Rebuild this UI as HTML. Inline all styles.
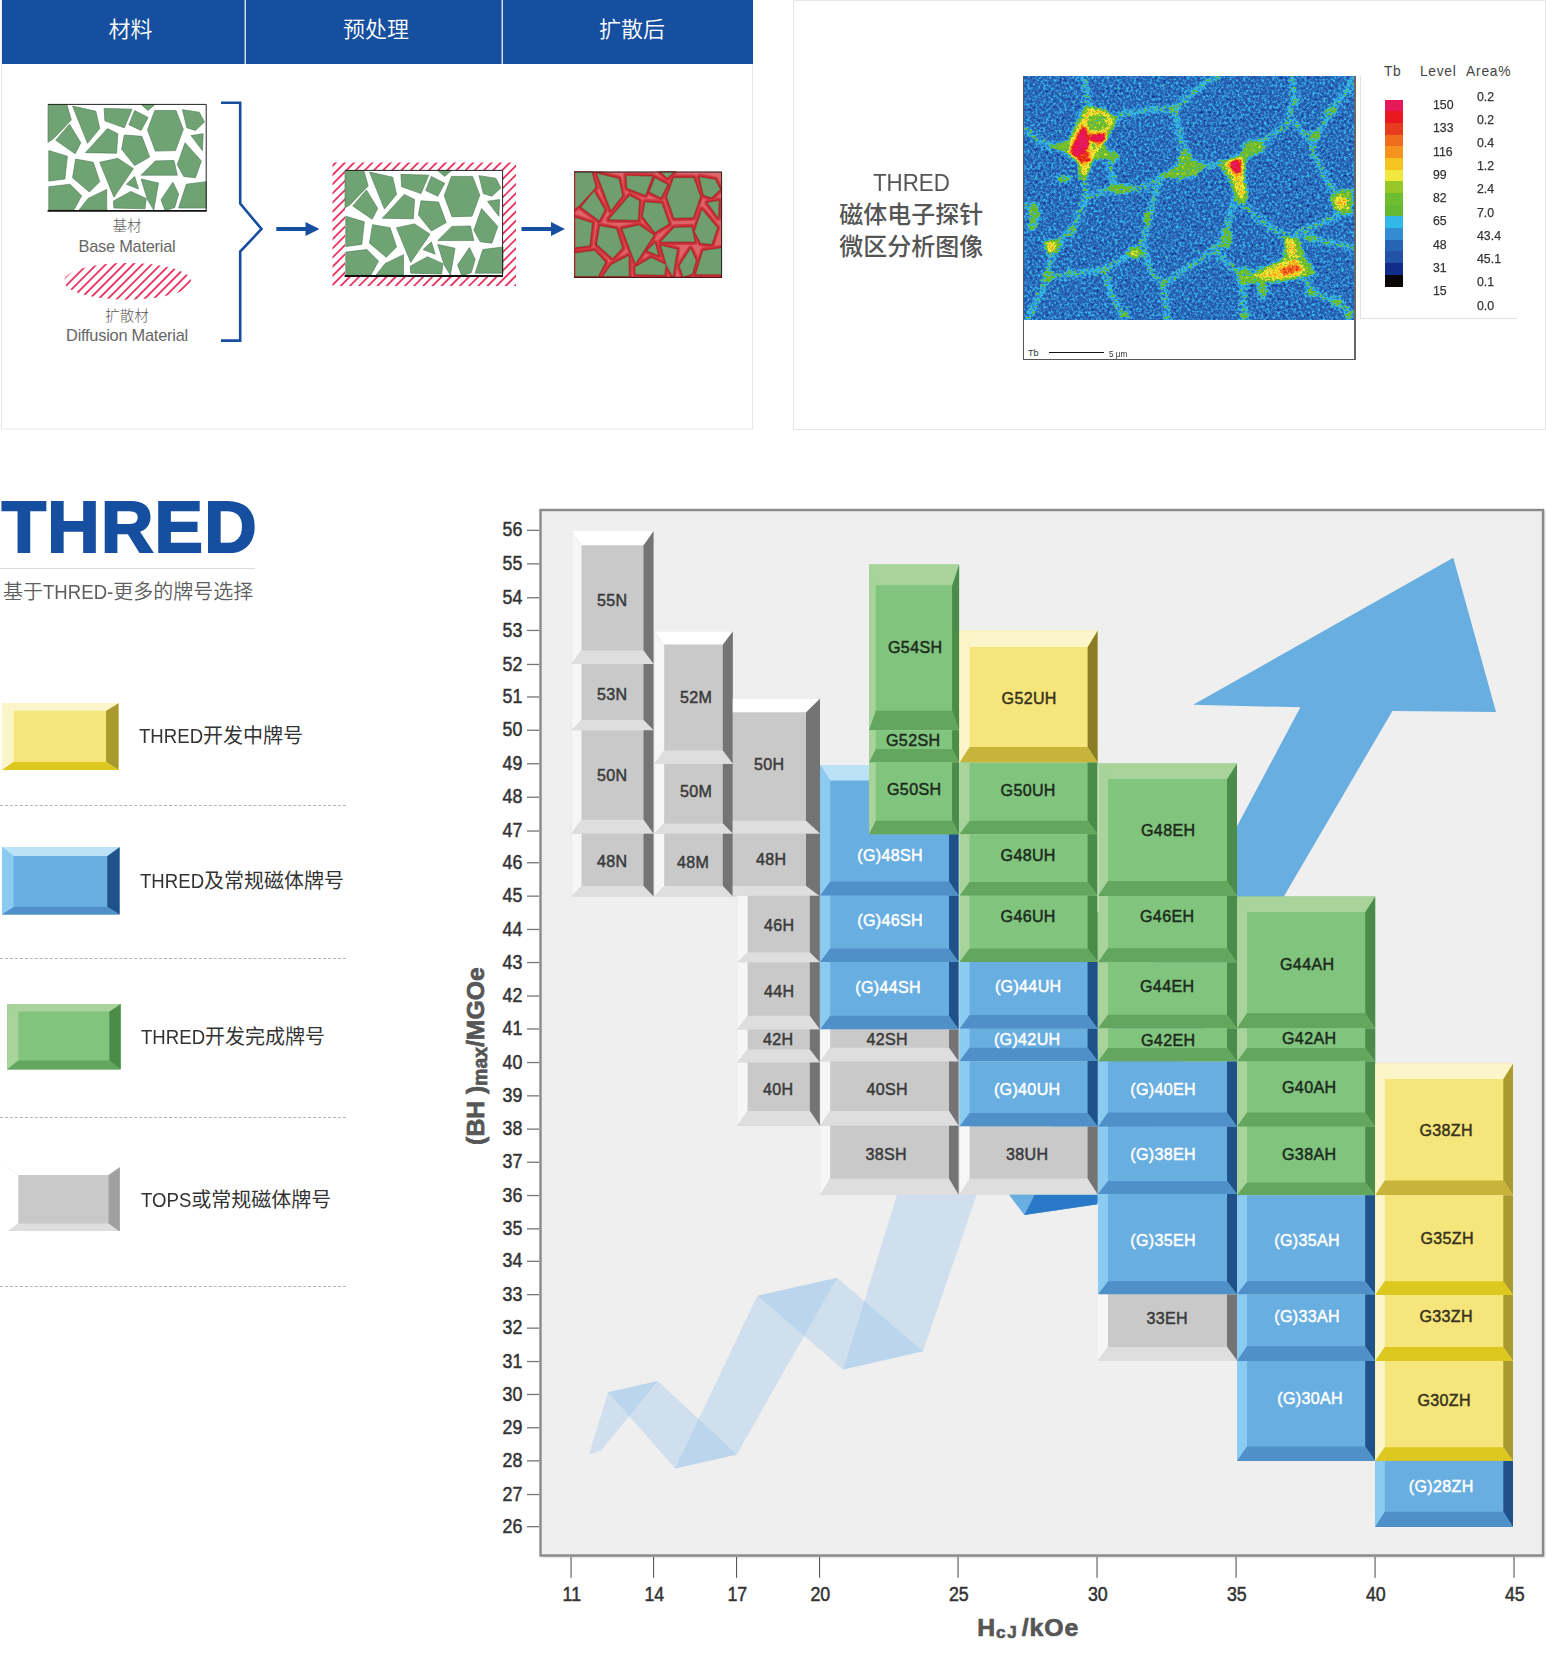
<!DOCTYPE html><html lang="zh"><head><meta charset="utf-8"><title>THRED</title><style>
html,body{margin:0;padding:0;background:#fff}
body{width:1546px;height:1653px;position:relative;overflow:hidden;font-family:"Liberation Sans","Noto Sans CJK SC",sans-serif;color:#333}
.abs{position:absolute;white-space:nowrap}
.hd{position:absolute;top:0;height:64px;line-height:60px;color:#fff;font-size:22px;text-align:center;font-family:"Liberation Sans","Noto Sans CJK SC",sans-serif;font-weight:350}
.cap{position:absolute;text-align:center;color:#5a5a5a;white-space:nowrap;font-weight:300}
.lg{position:absolute;left:139px;font-size:20px;color:#333;white-space:nowrap;line-height:30px;height:30px}
.la{display:inline-block;transform:scaleX(.93);transform-origin:0 50%;margin-right:-.24em}.la2{margin-right:-.265em}.la3{margin-right:-.19em}.la4{margin-right:0;transform-origin:50% 50%}
.dash{position:absolute;left:0;width:346px;height:0;border-top:1px dashed #b4b4b4}
.num{position:absolute;font-size:13.4px;color:#333;white-space:nowrap;line-height:14px;transform-origin:0 50%;transform:scaleX(.92);font-weight:400;-webkit-text-stroke:.25px #333}
</style></head><body>
<svg width="760" height="440" viewBox="0 0 760 440" style="position:absolute;left:0;top:0">
<defs><g id="grains"><polygon points="0,2 73,2 90,62 20,135 0,148"/><polygon points="95,8 185,28 200,95 153,152"/><polygon points="217,17 325,20 295,92 220,65"/><polygon points="335,25 387,52 360,102 313,80"/><polygon points="360,2 413,2 387,25"/><polygon points="413,25 495,25 523,98 493,180 415,182 385,100"/><polygon points="520,22 585,32 605,70 570,102 537,92"/><polygon points="553,122 600,115 597,180"/><polygon points="83,78 127,150 105,192 30,140"/><polygon points="230,95 270,115 265,190 145,188"/><polygon points="295,120 363,125 393,205 335,238 285,175"/><polygon points="530,150 593,220 570,285 525,280 500,235"/><polygon points="3,180 75,202 65,290 3,298"/><polygon points="107,213 175,225 200,300 160,340 95,285"/><polygon points="200,225 270,210 330,250 255,360"/><polygon points="415,220 487,218 500,275 360,275"/><polygon points="335,280 350,328 303,310"/><polygon points="360,290 427,305 409,410 385,370"/><polygon points="483,302 505,348 490,400 453,412 437,370"/><polygon points="535,310 613,300 613,402 505,402"/><polygon points="3,320 85,310 130,355 100,410 3,410"/><polygon points="227,330 227,410 120,410 155,365"/><polygon points="320,338 380,365 375,405 255,402 253,375"/></g>
<pattern id="hat" width="6.48" height="6.48" patternUnits="userSpaceOnUse" patternTransform="rotate(45) translate(1.6 0)"><rect x="0" y="0" width="1.8" height="6.48" fill="#e8305e"/></pattern>
<filter id="gb" x="-5%" y="-5%" width="110%" height="110%"><feGaussianBlur stdDeviation="1.1"/></filter>
</defs>
<rect x="1.5" y="0.5" width="751" height="428.5" fill="#fff" stroke="#e6e6e6" stroke-width="1"/>
<rect x="2" y="0" width="751" height="64" fill="#164fa0"/>
<rect x="244.6" y="0" width="1.2" height="64" fill="#fff"/><rect x="501.6" y="0" width="1.2" height="64" fill="#fff"/>
<rect x="48" y="104" width="158.5" height="107.4" fill="#fff"/><g transform="translate(48 104) scale(0.2586 0.2588)" fill="#6fa374" stroke="#4d7d55" stroke-width="2.5" stroke-linejoin="round"><use href="#grains"/></g>
<path d="M48 104.4H206.2V211" fill="none" stroke="#222" stroke-width="1"/><path d="M47.6 210.8H206.7" stroke="#111" stroke-width="1.8"/>
<ellipse cx="127.5" cy="281.3" rx="63.5" ry="18.4" fill="url(#hat)"/>
<path d="M221 102.8H240.2V203.5L261.5 229L240.2 251.5V340.6H221" fill="none" stroke="#164fa0" stroke-width="2.6" stroke-linejoin="miter"/>
<path d="M276.3 227.1H305.5V222L319.5 229L305.5 236V230.9H276.3Z" fill="#164fa0"/>
<path d="M521.5 227.1H551V222L565 229L551 236V230.9H521.5Z" fill="#164fa0"/>
<rect x="332.5" y="162.5" width="183.5" height="123.5" fill="url(#hat)"/>
<rect x="345" y="170" width="158" height="106.5" fill="#fff"/><g transform="translate(345 170) scale(0.2577 0.2566)" fill="#6fa374" stroke="#4d7d55" stroke-width="2.5" stroke-linejoin="round"><use href="#grains"/></g>
<path d="M345 170.4H502.6V276" fill="none" stroke="#222" stroke-width="1"/><path d="M344.6 276H503" stroke="#111" stroke-width="1.8"/>
<clipPath id="c3"><rect x="574" y="171.5" width="148" height="106"/></clipPath>
<g clip-path="url(#c3)">
<rect x="574" y="171.5" width="148" height="106" fill="#de6468"/>
<g transform="translate(574 171.5) scale(0.2414 0.2554)" fill="none" stroke="#cf3a42" stroke-width="26" stroke-linejoin="round"><use href="#grains"/></g>
<g transform="translate(574 171.5) scale(0.2414 0.2554)" fill="#6f9f6e" stroke="#c0222a" stroke-width="13" stroke-linejoin="round"><use href="#grains"/></g>
<g transform="translate(574 171.5) scale(0.2414 0.2554)" fill="#6f9f6e" stroke="#4c7c50" stroke-width="1.5" stroke-linejoin="round"><use href="#grains"/></g>
</g>
<path d="M574.6 171.5V277.5" stroke="#b01c24" stroke-width="1.2"/>
<path d="M574 172H721.6V277" fill="none" stroke="#222" stroke-width="1"/><path d="M574 277.3H722" stroke="#5a1010" stroke-width="1.2"/>
</svg>
<div class="hd" style="left:2px;width:243px;padding-left:14px;box-sizing:border-box">材料</div>
<div class="hd" style="left:246px;width:256px;padding-left:4px;box-sizing:border-box">预处理</div>
<div class="hd" style="left:503px;width:250px;padding-left:8px;box-sizing:border-box">扩散后</div>
<div class="cap" style="left:27px;width:200px;top:216px;font-size:14.5px;line-height:20px">基材</div>
<div class="cap" style="left:27px;width:200px;top:236px;font-size:16.4px;line-height:20px;letter-spacing:-.25px;color:#666">Base Material</div>
<div class="cap" style="left:27px;width:200px;top:306px;font-size:14.5px;line-height:20px">扩散材</div>
<div class="cap" style="left:27px;width:200px;top:325px;font-size:16.4px;line-height:20px;letter-spacing:-.25px;color:#666">Diffusion Material</div>
<div style="position:absolute;left:793px;top:0;width:750.5px;height:428px;border:1px solid #e6e6e6;box-sizing:content-box"></div>
<div class="cap" style="left:811.3px;width:200px;top:167.4px;font-size:24px;line-height:32px;color:#555;font-weight:500"><span class="la la4" style="font-weight:400">THRED</span><br>磁体电子探针<br>微区分析图像</div>
<div style="position:absolute;left:1023px;top:76px;width:329.5px;height:282.5px;border-left:1.6px solid #555;border-right:2px solid #666;border-bottom:1.6px solid #555;background:#fff"></div>
<svg width="329.2" height="243.6" viewBox="45 45 1455 1075" preserveAspectRatio="none" style="position:absolute;left:1024.4px;top:76px;overflow:hidden">
<defs>
<filter id="ep" x="0" y="0" width="100%" height="100%" filterUnits="objectBoundingBox" color-interpolation-filters="sRGB"><feGaussianBlur in="SourceGraphic" stdDeviation="6" result="bl"/><feTurbulence type="fractalNoise" baseFrequency="0.085" numOctaves="2" seed="7" result="nz"/><feColorMatrix in="nz" type="matrix" values="1 0 0 0 0  1 0 0 0 0  1 0 0 0 0  0 0 0 0 1" result="ng"/><feComposite in="bl" in2="ng" operator="arithmetic" k1="0" k2="1" k3="0.42" k4="-0.21" result="mix"/><feComponentTransfer in="mix"><feFuncR type="discrete" tableValues="0.039 0.071 0.141 0.157 0.196 0.196 0.392 0.431 0.588 0.941 0.965 0.957 0.941 0.910 0.910 0.902"/><feFuncG type="discrete" tableValues="0.024 0.173 0.322 0.392 0.549 0.722 0.722 0.737 0.784 0.910 0.769 0.580 0.424 0.235 0.094 0.094"/><feFuncB type="discrete" tableValues="0.024 0.549 0.659 0.706 0.824 0.902 0.196 0.188 0.157 0.235 0.118 0.118 0.118 0.118 0.118 0.353"/></feComponentTransfer></filter>
</defs>
<g filter="url(#ep)">
<rect x="-100" y="-100" width="1800" height="1400" fill="#3c3c3c"/>
<path d="M310 45L320 120L330 200" fill="none" stroke="#555555" stroke-width="30" stroke-linecap="round" stroke-linejoin="round"/>
<path d="M440 230L500 210L600 195L710 190L790 120L840 80L900 45" fill="none" stroke="#555555" stroke-width="30" stroke-linecap="round" stroke-linejoin="round"/>
<path d="M710 190L730 300L760 380L750 440" fill="none" stroke="#555555" stroke-width="30" stroke-linecap="round" stroke-linejoin="round"/>
<path d="M310 480L320 580L260 720L170 800L150 930L100 1040L60 1120" fill="none" stroke="#555555" stroke-width="30" stroke-linecap="round" stroke-linejoin="round"/>
<path d="M50 280L100 320L170 360" fill="none" stroke="#555555" stroke-width="30" stroke-linecap="round" stroke-linejoin="round"/>
<path d="M420 400L440 540L560 540L640 500L740 450" fill="none" stroke="#555555" stroke-width="30" stroke-linecap="round" stroke-linejoin="round"/>
<path d="M640 500L600 660L570 780L600 900L660 960L680 1120" fill="none" stroke="#555555" stroke-width="30" stroke-linecap="round" stroke-linejoin="round"/>
<path d="M320 580L440 540" fill="none" stroke="#555555" stroke-width="30" stroke-linecap="round" stroke-linejoin="round"/>
<path d="M150 930L250 920L400 900L430 1000L480 1100" fill="none" stroke="#555555" stroke-width="30" stroke-linecap="round" stroke-linejoin="round"/>
<path d="M570 780L530 820L400 900" fill="none" stroke="#555555" stroke-width="30" stroke-linecap="round" stroke-linejoin="round"/>
<path d="M170 800L260 720" fill="none" stroke="#555555" stroke-width="30" stroke-linecap="round" stroke-linejoin="round"/>
<path d="M740 450L850 440L920 430" fill="none" stroke="#555555" stroke-width="30" stroke-linecap="round" stroke-linejoin="round"/>
<path d="M1000 400L1090 340L1200 270L1240 150L1230 45" fill="none" stroke="#555555" stroke-width="30" stroke-linecap="round" stroke-linejoin="round"/>
<path d="M1240 250L1310 330L1350 290L1400 200L1480 100L1500 60" fill="none" stroke="#555555" stroke-width="30" stroke-linecap="round" stroke-linejoin="round"/>
<path d="M1000 560L960 640L930 760L900 830L1000 920" fill="none" stroke="#555555" stroke-width="30" stroke-linecap="round" stroke-linejoin="round"/>
<path d="M1000 600L1100 690L1200 750" fill="none" stroke="#555555" stroke-width="30" stroke-linecap="round" stroke-linejoin="round"/>
<path d="M1310 330L1330 400L1380 500L1440 600" fill="none" stroke="#555555" stroke-width="30" stroke-linecap="round" stroke-linejoin="round"/>
<path d="M1450 650L1350 700L1250 740" fill="none" stroke="#555555" stroke-width="30" stroke-linecap="round" stroke-linejoin="round"/>
<path d="M1280 920L1320 1000L1430 1040L1495 1100" fill="none" stroke="#555555" stroke-width="30" stroke-linecap="round" stroke-linejoin="round"/>
<path d="M1020 930L1010 1000L1020 1115" fill="none" stroke="#555555" stroke-width="30" stroke-linecap="round" stroke-linejoin="round"/>
<path d="M930 760L850 840L750 900L680 950" fill="none" stroke="#555555" stroke-width="30" stroke-linecap="round" stroke-linejoin="round"/>
<path d="M1300 760L1400 780L1495 800" fill="none" stroke="#555555" stroke-width="30" stroke-linecap="round" stroke-linejoin="round"/>
<path d="M60 620L100 640L80 700" fill="none" stroke="#555555" stroke-width="30" stroke-linecap="round" stroke-linejoin="round"/>
<path d="M1090 960L1100 1020" fill="none" stroke="#555555" stroke-width="30" stroke-linecap="round" stroke-linejoin="round"/>
<ellipse cx="440" cy="400" rx="25" ry="25" fill="#707070"/>
<ellipse cx="470" cy="545" rx="55" ry="22" fill="#707070"/>
<ellipse cx="220" cy="500" rx="35" ry="15" fill="#6b6b6b"/>
<ellipse cx="710" cy="190" rx="18" ry="18" fill="#6b6b6b"/>
<ellipse cx="1060" cy="360" rx="50" ry="30" fill="#707070"/>
<ellipse cx="1010" cy="560" rx="25" ry="50" fill="#757575"/>
<ellipse cx="1020" cy="930" rx="35" ry="40" fill="#707070"/>
<ellipse cx="1100" cy="990" rx="22" ry="30" fill="#6b6b6b"/>
<ellipse cx="150" cy="930" rx="25" ry="25" fill="#6b6b6b"/>
<ellipse cx="90" cy="650" rx="25" ry="50" fill="#6b6b6b"/>
<ellipse cx="80" cy="710" rx="20" ry="15" fill="#6b6b6b"/>
<ellipse cx="535" cy="825" rx="35" ry="25" fill="#757575"/>
<ellipse cx="590" cy="670" rx="18" ry="30" fill="#6b6b6b"/>
<ellipse cx="940" cy="760" rx="25" ry="50" fill="#6b6b6b"/>
<ellipse cx="1330" cy="310" rx="25" ry="25" fill="#6b6b6b"/>
<ellipse cx="1400" cy="200" rx="30" ry="15" fill="#6b6b6b"/>
<ellipse cx="1255" cy="155" rx="12" ry="12" fill="#666666"/>
<ellipse cx="1310" cy="1000" rx="20" ry="15" fill="#6b6b6b"/>
<ellipse cx="1430" cy="1045" rx="25" ry="20" fill="#6b6b6b"/>
<ellipse cx="490" cy="1100" rx="25" ry="15" fill="#6b6b6b"/>
<ellipse cx="1020" cy="1100" rx="25" ry="15" fill="#6b6b6b"/>
<ellipse cx="1480" cy="1100" rx="15" ry="20" fill="#6b6b6b"/>
<ellipse cx="400" cy="900" rx="20" ry="12" fill="#666666"/>
<ellipse cx="1310" cy="760" rx="30" ry="15" fill="#6b6b6b"/>
<ellipse cx="260" cy="730" rx="15" ry="25" fill="#666666"/>
<ellipse cx="250" cy="910" rx="20" ry="10" fill="#666666"/>
<ellipse cx="660" cy="960" rx="12" ry="18" fill="#666666"/>
<polygon points="150,355 240,330 310,180 400,190 460,235 400,340 430,400 350,420 320,500 290,500 280,420 220,380" fill="#787878"/>
<polygon points="905,430 1000,390 1090,320 1100,360 1030,410 1020,500 1030,590 980,600 960,520 930,470" fill="#787878"/>
<polygon points="1000,950 1080,900 1190,850 1200,750 1260,760 1290,850 1340,920 1200,950 1080,960" fill="#787878"/>
<polygon points="1395,580 1440,550 1495,545 1495,660 1420,640" fill="#787878"/>
<polygon points="130,770 200,765 215,790 185,830 150,830" fill="#787878"/>
<polygon points="640,490 720,440 740,370 765,370 790,410 850,440 800,490 720,500" fill="#737373"/>
<polygon points="250,330 330,185 400,200 440,240 400,330 350,400 320,480 300,480 290,410 240,380" fill="#a1a1a1"/>
<polygon points="930,430 1010,400 1015,480 1020,580 1000,585 970,500" fill="#a1a1a1"/>
<polygon points="1060,930 1180,870 1250,850 1290,900 1260,930 1150,945" fill="#a1a1a1"/>
<polygon points="1200,760 1240,770 1250,850 1215,840" fill="#a1a1a1"/>
<polygon points="140,780 180,775 180,815 150,820" fill="#a1a1a1"/>
<ellipse cx="1445" cy="605" rx="30" ry="26" fill="#a3a3a3"/>
<ellipse cx="535" cy="828" rx="15" ry="10" fill="#999999"/>
<ellipse cx="1315" cy="1000" rx="8" ry="6" fill="#949494"/>
<polygon points="250,380 290,290 310,262 328,300 335,350 300,405 260,400" fill="#ffffff"/>
<polygon points="340,302 400,296 410,325 370,345 338,335" fill="#ffffff"/>
<polygon points="268,400 330,378 342,420 292,432" fill="#dbdbdb"/>
<polygon points="955,420 1000,415 1005,470 985,480 960,450" fill="#ffffff"/>
<polygon points="1170,900 1250,870 1270,900 1200,925" fill="#cccccc"/>
<ellipse cx="368" cy="252" rx="48" ry="40" fill="#787878"/>
<ellipse cx="350" cy="350" rx="16" ry="16" fill="#787878"/>
</g></svg>
<div class="abs" style="left:1028px;top:347px;font-size:9px;line-height:12px;color:#333">Tb</div>
<div style="position:absolute;left:1049px;top:352px;width:54.5px;height:1px;background:#111"></div>
<div class="abs" style="left:1109px;top:347.5px;font-size:9px;line-height:12px;color:#333;transform:scaleX(.9);transform-origin:0 0">5 μm</div>
<div style="position:absolute;left:1360px;top:76px;width:156px;height:242px;border-left:1px solid #e2e2e2;border-bottom:1px solid #e2e2e2"></div>
<div class="abs" style="left:1384px;top:63.5px;font-size:13.8px;line-height:16px;color:#444;letter-spacing:.5px">Tb</div>
<div class="abs" style="left:1420px;top:63.5px;font-size:13.8px;line-height:16px;color:#444;letter-spacing:.7px">Level</div>
<div class="abs" style="left:1466px;top:63.5px;font-size:13.8px;line-height:16px;color:#444;letter-spacing:.8px">Area%</div>
<div style="position:absolute;left:1385px;top:99.50px;width:18px;height:11.98px;background:#e6185a"></div>
<div style="position:absolute;left:1385px;top:111.18px;width:18px;height:11.98px;background:#e8181e"></div>
<div style="position:absolute;left:1385px;top:122.86px;width:18px;height:11.98px;background:#e83c1e"></div>
<div style="position:absolute;left:1385px;top:134.54px;width:18px;height:11.98px;background:#f06c1e"></div>
<div style="position:absolute;left:1385px;top:146.22px;width:18px;height:11.98px;background:#f4941e"></div>
<div style="position:absolute;left:1385px;top:157.91px;width:18px;height:11.98px;background:#f6c41e"></div>
<div style="position:absolute;left:1385px;top:169.59px;width:18px;height:11.98px;background:#f0e83c"></div>
<div style="position:absolute;left:1385px;top:181.27px;width:18px;height:11.98px;background:#96c828"></div>
<div style="position:absolute;left:1385px;top:192.95px;width:18px;height:11.98px;background:#6ebc30"></div>
<div style="position:absolute;left:1385px;top:204.63px;width:18px;height:11.98px;background:#64b832"></div>
<div style="position:absolute;left:1385px;top:216.31px;width:18px;height:11.98px;background:#32b8e6"></div>
<div style="position:absolute;left:1385px;top:227.99px;width:18px;height:11.98px;background:#328cd2"></div>
<div style="position:absolute;left:1385px;top:239.67px;width:18px;height:11.98px;background:#2864b4"></div>
<div style="position:absolute;left:1385px;top:251.36px;width:18px;height:11.98px;background:#2452a8"></div>
<div style="position:absolute;left:1385px;top:263.04px;width:18px;height:11.98px;background:#122c8c"></div>
<div style="position:absolute;left:1385px;top:274.72px;width:18px;height:11.98px;background:#0a0606"></div>
<div class="num" style="left:1432.5px;top:98.0px">150</div>
<div class="num" style="left:1432.5px;top:121.3px">133</div>
<div class="num" style="left:1432.5px;top:144.6px">116</div>
<div class="num" style="left:1432.5px;top:167.9px">99</div>
<div class="num" style="left:1432.5px;top:191.2px">82</div>
<div class="num" style="left:1432.5px;top:214.4px">65</div>
<div class="num" style="left:1432.5px;top:237.7px">48</div>
<div class="num" style="left:1432.5px;top:261.0px">31</div>
<div class="num" style="left:1432.5px;top:284.3px">15</div>
<div class="num" style="left:1476.6px;top:89.5px">0.2</div>
<div class="num" style="left:1476.6px;top:112.7px">0.2</div>
<div class="num" style="left:1476.6px;top:135.9px">0.4</div>
<div class="num" style="left:1476.6px;top:159.2px">1.2</div>
<div class="num" style="left:1476.6px;top:182.4px">2.4</div>
<div class="num" style="left:1476.6px;top:205.6px">7.0</div>
<div class="num" style="left:1476.6px;top:228.8px">43.4</div>
<div class="num" style="left:1476.6px;top:252.0px">45.1</div>
<div class="num" style="left:1476.6px;top:275.3px">0.1</div>
<div class="num" style="left:1476.6px;top:298.5px">0.0</div>
<div class="abs" style="left:1.7px;top:487.3px;font-size:72.5px;line-height:80px;font-weight:700;color:#164fa0;letter-spacing:1.3px;-webkit-text-stroke:2.2px #164fa0">THRED</div>
<div style="position:absolute;left:0;top:567.5px;width:255px;height:1px;background:#dcdcdc"></div>
<div class="abs" style="left:3px;top:576.5px;font-size:20px;line-height:30px;color:#5e5e5e;font-weight:350">基于<span class="la la2">THRED-</span>更多的牌号选择</div>
<svg width="116.6" height="66.89999999999998" viewBox="2.4 702.7 116.6 66.89999999999998" style="position:absolute;left:2.4px;top:702.7px"><rect x="2.4" y="702.7" width="116.6" height="66.89999999999998" fill="#f6e57b"/><path d="M2.4 702.7L14 710.4L14 761.6L2.4 769.6Z" fill="#fbf5c9"/><path d="M119 702.7L106.5 710.4L106.5 761.6L119 769.6Z" fill="#a89a2c"/><path d="M2.4 702.7L119 702.7L106.5 710.4L14 710.4Z" fill="#fbf5c9"/><path d="M2.4 769.6L119 769.6L106.5 761.6L14 761.6Z" fill="#dcc81f"/></svg>
<svg width="117.6" height="67.5" viewBox="2.4 847.3 117.6 67.5" style="position:absolute;left:2.4px;top:847.3px"><rect x="2.4" y="847.3" width="117.6" height="67.5" fill="#69aee0"/><path d="M2.4 847.3L14 856.2L14 907.4L2.4 914.8Z" fill="#8ccbf1"/><path d="M120 847.3L107.7 856.2L107.7 907.4L120 914.8Z" fill="#1f5288"/><path d="M2.4 847.3L120 847.3L107.7 856.2L14 856.2Z" fill="#bbe2f6"/><path d="M2.4 914.8L120 914.8L107.7 907.4L14 907.4Z" fill="#4f90c8"/></svg>
<svg width="113.7" height="65.39999999999998" viewBox="7.1 1004.4 113.7 65.39999999999998" style="position:absolute;left:7.1px;top:1004.4px"><rect x="7.1" y="1004.4" width="113.7" height="65.39999999999998" fill="#80c47e"/><path d="M7.1 1004.4L18.4 1011.8L18.4 1060.9L7.1 1069.8Z" fill="#a8d49b"/><path d="M120.8 1004.4L109.5 1011.8L109.5 1060.9L120.8 1069.8Z" fill="#4b8c4a"/><path d="M7.1 1004.4L120.8 1004.4L109.5 1011.8L18.4 1011.8Z" fill="#a8d49b"/><path d="M7.1 1069.8L120.8 1069.8L109.5 1060.9L18.4 1060.9Z" fill="#65a65e"/></svg>
<svg width="112.80000000000001" height="64.90000000000009" viewBox="7.1 1166.5 112.80000000000001 64.90000000000009" style="position:absolute;left:7.1px;top:1166.5px"><rect x="7.1" y="1166.5" width="112.80000000000001" height="64.90000000000009" fill="#c9c9c9"/><path d="M7.1 1166.5L18.4 1174.6L18.4 1223.1L7.1 1231.4Z" fill="#ffffff"/><path d="M119.9 1166.5L108.6 1174.6L108.6 1223.1L119.9 1231.4Z" fill="#a0a0a0"/><path d="M7.1 1166.5L119.9 1166.5L108.6 1174.6L18.4 1174.6Z" fill="#ffffff"/><path d="M7.1 1231.4L119.9 1231.4L108.6 1223.1L18.4 1223.1Z" fill="#dedede"/></svg>
<div class="lg" style="top:720.5px"><span class="la">THRED</span>开发中牌号</div>
<div class="lg" style="top:865.5px;left:140px"><span class="la">THRED</span>及常规磁体牌号</div>
<div class="lg" style="top:1021.5px;left:141px"><span class="la">THRED</span>开发完成牌号</div>
<div class="lg" style="top:1184.5px;left:141px"><span class="la la3">TOPS</span>或常规磁体牌号</div>
<div class="dash" style="top:805px"></div>
<div class="dash" style="top:958px"></div>
<div class="dash" style="top:1117px"></div>
<div class="dash" style="top:1286px"></div>
<svg width="1546" height="1653" viewBox="0 0 1546 1653" style="position:absolute;left:0;top:0">
<defs><filter id="psh" x="-2%" y="-2%" width="104%" height="104%"><feGaussianBlur stdDeviation="1.2"/></filter></defs>
<rect x="541.5" y="511" width="1003" height="1046" fill="#b8b8b8" filter="url(#psh)"/>
<rect x="540.5" y="510" width="1002.5" height="1045.5" fill="#efefef" stroke="#8a8a8a" stroke-width="2.4"/>
<path d="M1453.3 557.7L1496 712L1392.4 711L1283.8 896.4L1097 1204.5L1024.4 1215.1L1009.2 1195.1L1237.7 825L1300.4 707.3L1193.2 704.8Z" fill="#69aee0"/>
<path d="M1034.5 1195.1L1024.4 1215.1L1097.2 1204.2L1097.2 1195.1Z" fill="#2a78c8"/>
<path d="M896.9 1195.1L976.6 1195.1L923 1351.3L843.3 1369.4Z" fill="#9cc6ea" fill-opacity="0.38"/>
<path d="M837.1 1277.7L757.4 1295.8L843.3 1369.4L923 1351.3Z" fill="#9cc6ea" fill-opacity="0.38"/>
<path d="M757.4 1295.8L837.1 1277.7L736.8 1454.5L675.2 1468.6Z" fill="#9cc6ea" fill-opacity="0.38"/>
<path d="M608.2 1392.2L657.8 1381L736.8 1454.5L675.2 1468.6Z" fill="#9cc6ea" fill-opacity="0.38"/>
<path d="M608.2 1392.2L657.8 1381L600.6 1450.9L589 1454.5Z" fill="#9cc6ea" fill-opacity="0.38"/>
<rect x="571.5" y="531" width="82" height="133" fill="#c9c9c9"/><path d="M571.5 531L581.5 545.3L581.5 650.6L571.5 664Z" fill="#f6f6f6"/><path d="M653.5 531L643.5 545.3L643.5 650.6L653.5 664Z" fill="#747474"/><path d="M571.5 531L653.5 531L643.5 545.3L581.5 545.3Z" fill="#ffffff"/><path d="M571.5 664L653.5 664L643.5 650.6L581.5 650.6Z" fill="#dedede"/>
<rect x="571.5" y="664" width="82" height="66.3" fill="#c9c9c9"/><path d="M571.5 664L581.5 664L581.5 720L571.5 730.3Z" fill="#f6f6f6"/><path d="M653.5 664L643.5 664L643.5 720L653.5 730.3Z" fill="#747474"/><path d="M571.5 730.3L653.5 730.3L643.5 720L581.5 720Z" fill="#dedede"/>
<rect x="571.5" y="730.3" width="82" height="103.5" fill="#c9c9c9"/><path d="M571.5 730.3L581.5 730.3L581.5 819.8L571.5 833.8Z" fill="#f6f6f6"/><path d="M653.5 730.3L643.5 730.3L643.5 819.8L653.5 833.8Z" fill="#747474"/><path d="M571.5 833.8L653.5 833.8L643.5 819.8L581.5 819.8Z" fill="#dedede"/>
<rect x="571.5" y="833.8" width="82" height="62.6" fill="#c9c9c9"/><path d="M571.5 833.8L581.5 833.8L581.5 886L571.5 896.4Z" fill="#f6f6f6"/><path d="M653.5 833.8L643.5 833.8L643.5 886L653.5 896.4Z" fill="#747474"/><path d="M571.5 896.4L653.5 896.4L643.5 886L581.5 886Z" fill="#dedede"/>
<rect x="654.4" y="631.2" width="78.4" height="132.7" fill="#c9c9c9"/><path d="M654.4 631.2L664.2 644.4L664.2 750.5L654.4 763.9Z" fill="#f6f6f6"/><path d="M732.8 631.2L722.8 644.4L722.8 750.5L732.8 763.9Z" fill="#747474"/><path d="M654.4 631.2L732.8 631.2L722.8 644.4L664.2 644.4Z" fill="#ffffff"/><path d="M654.4 763.9L732.8 763.9L722.8 750.5L664.2 750.5Z" fill="#dedede"/>
<rect x="654.4" y="763.9" width="78.4" height="69.9" fill="#c9c9c9"/><path d="M654.4 763.9L664.2 763.9L664.2 823.4L654.4 833.8Z" fill="#f6f6f6"/><path d="M732.8 763.9L722.8 763.9L722.8 823.4L732.8 833.8Z" fill="#747474"/><path d="M654.4 833.8L732.8 833.8L722.8 823.4L664.2 823.4Z" fill="#dedede"/>
<rect x="654.4" y="833.8" width="78.4" height="62.6" fill="#c9c9c9"/><path d="M654.4 833.8L664.2 833.8L664.2 886L654.4 896.4Z" fill="#f6f6f6"/><path d="M732.8 833.8L722.8 833.8L722.8 886L732.8 896.4Z" fill="#747474"/><path d="M654.4 896.4L732.8 896.4L722.8 886L664.2 886Z" fill="#dedede"/>
<rect x="732.8" y="698.4" width="87.2" height="135.4" fill="#c9c9c9"/><path d="M820 698.4L806 712.2L806 820.8L820 833.8Z" fill="#747474"/><path d="M732.8 698.4L820 698.4L806 712.2L732.8 712.2Z" fill="#ffffff"/><path d="M732.8 833.8L820 833.8L806 820.8L732.8 820.8Z" fill="#dedede"/>
<rect x="732.8" y="833.8" width="87.2" height="62.6" fill="#c9c9c9"/><path d="M820 833.8L806 833.8L806 886L820 896.4Z" fill="#747474"/><path d="M732.8 896.4L820 896.4L806 886L732.8 886Z" fill="#dedede"/>
<rect x="737.2" y="895.8" width="82.6" height="66.5" fill="#c9c9c9"/><path d="M737.2 895.8L747.6 895.8L747.6 952.4L737.2 962.3Z" fill="#f6f6f6"/><path d="M819.8 895.8L809.8 895.8L809.8 952.4L819.8 962.3Z" fill="#747474"/><path d="M737.2 962.3L819.8 962.3L809.8 952.4L747.6 952.4Z" fill="#dedede"/>
<rect x="737.2" y="962.3" width="82.6" height="67.2" fill="#c9c9c9"/><path d="M737.2 962.3L747.6 962.3L747.6 1015.8L737.2 1029.5Z" fill="#f6f6f6"/><path d="M819.8 962.3L809.8 962.3L809.8 1015.8L819.8 1029.5Z" fill="#747474"/><path d="M737.2 1029.5L819.8 1029.5L809.8 1015.8L747.6 1015.8Z" fill="#dedede"/>
<rect x="737.2" y="1029.5" width="82.6" height="32.9" fill="#c9c9c9"/><path d="M737.2 1029.5L747.6 1029.5L747.6 1049.5L737.2 1062.4Z" fill="#f6f6f6"/><path d="M819.8 1029.5L809.8 1029.5L809.8 1049.5L819.8 1062.4Z" fill="#747474"/><path d="M737.2 1062.4L819.8 1062.4L809.8 1049.5L747.6 1049.5Z" fill="#dedede"/>
<rect x="737.2" y="1062.4" width="82.6" height="63.4" fill="#c9c9c9"/><path d="M737.2 1062.4L747.6 1062.4L747.6 1111L737.2 1125.8Z" fill="#f6f6f6"/><path d="M819.8 1062.4L809.8 1062.4L809.8 1111L819.8 1125.8Z" fill="#747474"/><path d="M737.2 1125.8L819.8 1125.8L809.8 1111L747.6 1111Z" fill="#dedede"/>
<rect x="820.2" y="765.1" width="138.4" height="130.7" fill="#69aee0"/><path d="M820.2 765.1L830.2 780.6L830.2 881.5L820.2 895.8Z" fill="#8ccbf1"/><path d="M958.6 765.1L949 780.6L949 881.5L958.6 895.8Z" fill="#1f5288"/><path d="M820.2 765.1L958.6 765.1L949 780.6L830.2 780.6Z" fill="#bbe2f6"/><path d="M820.2 895.8L958.6 895.8L949 881.5L830.2 881.5Z" fill="#4f90c8"/>
<rect x="820.2" y="895.8" width="138.4" height="66.2" fill="#69aee0"/><path d="M820.2 895.8L830.2 895.8L830.2 948.6L820.2 962Z" fill="#8ccbf1"/><path d="M958.6 895.8L949 895.8L949 948.6L958.6 962Z" fill="#1f5288"/><path d="M820.2 962L958.6 962L949 948.6L830.2 948.6Z" fill="#4f90c8"/>
<rect x="820.2" y="962" width="138.4" height="67.5" fill="#69aee0"/><path d="M820.2 962L830.2 962L830.2 1015.8L820.2 1029.5Z" fill="#8ccbf1"/><path d="M958.6 962L949 962L949 1015.8L958.6 1029.5Z" fill="#1f5288"/><path d="M820.2 1029.5L958.6 1029.5L949 1015.8L830.2 1015.8Z" fill="#4f90c8"/>
<rect x="820.2" y="1029.5" width="138.4" height="32.1" fill="#c9c9c9"/><path d="M820.2 1029.5L830.2 1029.5L830.2 1047.7L820.2 1061.6Z" fill="#f6f6f6"/><path d="M958.6 1029.5L949 1029.5L949 1047.7L958.6 1061.6Z" fill="#747474"/><path d="M820.2 1061.6L958.6 1061.6L949 1047.7L830.2 1047.7Z" fill="#dedede"/>
<rect x="820.2" y="1061.6" width="138.4" height="64.2" fill="#c9c9c9"/><path d="M820.2 1061.6L830.2 1061.6L830.2 1111L820.2 1125.8Z" fill="#f6f6f6"/><path d="M958.6 1061.6L949 1061.6L949 1111L958.6 1125.8Z" fill="#747474"/><path d="M820.2 1125.8L958.6 1125.8L949 1111L830.2 1111Z" fill="#dedede"/>
<rect x="820.2" y="1125.8" width="138.4" height="69.3" fill="#c9c9c9"/><path d="M820.2 1125.8L830.2 1125.8L830.2 1178.8L820.2 1195.1Z" fill="#f6f6f6"/><path d="M958.6 1125.8L949 1125.8L949 1178.8L958.6 1195.1Z" fill="#747474"/><path d="M820.2 1195.1L958.6 1195.1L949 1178.8L830.2 1178.8Z" fill="#dedede"/>
<rect x="869.1" y="564.6" width="90" height="165.6" fill="#80c47e"/><path d="M869.1 564.6L875.8 585.3L875.8 710.8L869.1 730.2Z" fill="#a8d49b"/><path d="M959.1 564.6L952.1 585.3L952.1 710.8L959.1 730.2Z" fill="#4b8c4a"/><path d="M869.1 564.6L959.1 564.6L952.1 585.3L875.8 585.3Z" fill="#a8d49b"/><path d="M869.1 730.2L959.1 730.2L952.1 710.8L875.8 710.8Z" fill="#65a65e"/>
<rect x="869.1" y="730.2" width="90" height="32.3" fill="#80c47e"/><path d="M869.1 730.2L875.8 730.2L875.8 749L869.1 762.5Z" fill="#a8d49b"/><path d="M959.1 730.2L952.1 730.2L952.1 749L959.1 762.5Z" fill="#4b8c4a"/><path d="M869.1 762.5L959.1 762.5L952.1 749L875.8 749Z" fill="#65a65e"/>
<rect x="869.1" y="762.5" width="90" height="71.7" fill="#80c47e"/><path d="M869.1 762.5L875.8 762.5L875.8 820.7L869.1 834.2Z" fill="#a8d49b"/><path d="M959.1 762.5L952.1 762.5L952.1 820.7L959.1 834.2Z" fill="#4b8c4a"/><path d="M869.1 834.2L959.1 834.2L952.1 820.7L875.8 820.7Z" fill="#65a65e"/>
<rect x="959.6" y="630.6" width="138" height="131.9" fill="#f6e57b"/><path d="M959.6 630.6L969.6 646.9L969.6 747L959.6 762.5Z" fill="#fbf5c9"/><path d="M1097.6 630.6L1087.6 646.9L1087.6 747L1097.6 762.5Z" fill="#8a7d26"/><path d="M959.6 630.6L1097.6 630.6L1087.6 646.9L969.6 646.9Z" fill="#fbf5c9"/><path d="M959.6 762.5L1097.6 762.5L1087.6 747L969.6 747Z" fill="#c8b43a"/>
<rect x="959.6" y="762.5" width="138" height="71.7" fill="#80c47e"/><path d="M959.6 762.5L969.6 762.5L969.6 820.7L959.6 834.2Z" fill="#a8d49b"/><path d="M1097.6 762.5L1087.6 762.5L1087.6 820.7L1097.6 834.2Z" fill="#4b8c4a"/><path d="M959.6 834.2L1097.6 834.2L1087.6 820.7L969.6 820.7Z" fill="#65a65e"/>
<rect x="959.6" y="834.2" width="138" height="61.6" fill="#80c47e"/><path d="M959.6 834.2L969.6 834.2L969.6 882L959.6 895.8Z" fill="#a8d49b"/><path d="M1097.6 834.2L1087.6 834.2L1087.6 882L1097.6 895.8Z" fill="#4b8c4a"/><path d="M959.6 895.8L1097.6 895.8L1087.6 882L969.6 882Z" fill="#65a65e"/>
<rect x="959.6" y="895.8" width="138" height="66.2" fill="#80c47e"/><path d="M959.6 895.8L969.6 895.8L969.6 948.6L959.6 962Z" fill="#a8d49b"/><path d="M1097.6 895.8L1087.6 895.8L1087.6 948.6L1097.6 962Z" fill="#4b8c4a"/><path d="M959.6 962L1097.6 962L1087.6 948.6L969.6 948.6Z" fill="#65a65e"/>
<rect x="959.6" y="962" width="138" height="66.8" fill="#69aee0"/><path d="M959.6 962L969.6 962L969.6 1015L959.6 1028.8Z" fill="#8ccbf1"/><path d="M1097.6 962L1087.6 962L1087.6 1015L1097.6 1028.8Z" fill="#1f5288"/><path d="M959.6 1028.8L1097.6 1028.8L1087.6 1015L969.6 1015Z" fill="#4f90c8"/>
<rect x="959.6" y="1028.8" width="138" height="32.3" fill="#69aee0"/><path d="M959.6 1028.8L969.6 1028.8L969.6 1047.7L959.6 1061.1Z" fill="#8ccbf1"/><path d="M1097.6 1028.8L1087.6 1028.8L1087.6 1047.7L1097.6 1061.1Z" fill="#1f5288"/><path d="M959.6 1061.1L1097.6 1061.1L1087.6 1047.7L969.6 1047.7Z" fill="#4f90c8"/>
<rect x="959.6" y="1061.1" width="138" height="65.5" fill="#69aee0"/><path d="M959.6 1061.1L969.6 1061.1L969.6 1112.9L959.6 1126.6Z" fill="#8ccbf1"/><path d="M1097.6 1061.1L1087.6 1061.1L1087.6 1112.9L1097.6 1126.6Z" fill="#1f5288"/><path d="M959.6 1126.6L1097.6 1126.6L1087.6 1112.9L969.6 1112.9Z" fill="#4f90c8"/>
<rect x="959.6" y="1126.6" width="138" height="67.8" fill="#c9c9c9"/><path d="M959.6 1126.6L969.6 1126.6L969.6 1178.8L959.6 1194.4Z" fill="#f6f6f6"/><path d="M1097.6 1126.6L1087.6 1126.6L1087.6 1178.8L1097.6 1194.4Z" fill="#747474"/><path d="M959.6 1194.4L1097.6 1194.4L1087.6 1178.8L969.6 1178.8Z" fill="#dedede"/>
<rect x="1098" y="763.5" width="139" height="132.5" fill="#80c47e"/><path d="M1098 763.5L1108 779L1108 881L1098 896Z" fill="#a8d49b"/><path d="M1237 763.5L1227 779L1227 881L1237 896Z" fill="#4b8c4a"/><path d="M1098 763.5L1237 763.5L1227 779L1108 779Z" fill="#a8d49b"/><path d="M1098 896L1237 896L1227 881L1108 881Z" fill="#65a65e"/>
<rect x="1098" y="896" width="139" height="66.5" fill="#80c47e"/><path d="M1098 896L1108 896L1108 948.3L1098 962.5Z" fill="#a8d49b"/><path d="M1237 896L1227 896L1227 948.3L1237 962.5Z" fill="#4b8c4a"/><path d="M1098 962.5L1237 962.5L1227 948.3L1108 948.3Z" fill="#65a65e"/>
<rect x="1098" y="962.5" width="139" height="66" fill="#80c47e"/><path d="M1098 962.5L1108 962.5L1108 1014.8L1098 1028.5Z" fill="#a8d49b"/><path d="M1237 962.5L1227 962.5L1227 1014.8L1237 1028.5Z" fill="#4b8c4a"/><path d="M1098 1028.5L1237 1028.5L1227 1014.8L1108 1014.8Z" fill="#65a65e"/>
<rect x="1098" y="1028.5" width="139" height="33.1" fill="#80c47e"/><path d="M1098 1028.5L1108 1028.5L1108 1047.9L1098 1061.6Z" fill="#a8d49b"/><path d="M1237 1028.5L1227 1028.5L1227 1047.9L1237 1061.6Z" fill="#4b8c4a"/><path d="M1098 1061.6L1237 1061.6L1227 1047.9L1108 1047.9Z" fill="#65a65e"/>
<rect x="1098" y="1061.6" width="139" height="65.2" fill="#69aee0"/><path d="M1098 1061.6L1108 1061.6L1108 1112.6L1098 1126.8Z" fill="#8ccbf1"/><path d="M1237 1061.6L1227 1061.6L1227 1112.6L1237 1126.8Z" fill="#1f5288"/><path d="M1098 1126.8L1237 1126.8L1227 1112.6L1108 1112.6Z" fill="#4f90c8"/>
<rect x="1098" y="1126.8" width="139" height="67.1" fill="#69aee0"/><path d="M1098 1126.8L1108 1126.8L1108 1181.1L1098 1193.9Z" fill="#8ccbf1"/><path d="M1237 1126.8L1227 1126.8L1227 1181.1L1237 1193.9Z" fill="#1f5288"/><path d="M1098 1193.9L1237 1193.9L1227 1181.1L1108 1181.1Z" fill="#4f90c8"/>
<rect x="1098" y="1193.9" width="139" height="100.5" fill="#69aee0"/><path d="M1098 1193.9L1108 1193.9L1108 1281.3L1098 1294.4Z" fill="#8ccbf1"/><path d="M1237 1193.9L1227 1193.9L1227 1281.3L1237 1294.4Z" fill="#1f5288"/><path d="M1098 1294.4L1237 1294.4L1227 1281.3L1108 1281.3Z" fill="#4f90c8"/>
<rect x="1098" y="1294.4" width="139" height="66" fill="#c9c9c9"/><path d="M1098 1294.4L1108 1294.4L1108 1347L1098 1360.4Z" fill="#f6f6f6"/><path d="M1237 1294.4L1227 1294.4L1227 1347L1237 1360.4Z" fill="#747474"/><path d="M1098 1360.4L1237 1360.4L1227 1347L1108 1347Z" fill="#dedede"/>
<rect x="1237" y="896.5" width="138.2" height="132" fill="#80c47e"/><path d="M1237 896.5L1247 912L1247 1013L1237 1028.5Z" fill="#a8d49b"/><path d="M1375.2 896.5L1365.2 912L1365.2 1013L1375.2 1028.5Z" fill="#4b8c4a"/><path d="M1237 896.5L1375.2 896.5L1365.2 912L1247 912Z" fill="#a8d49b"/><path d="M1237 1028.5L1375.2 1028.5L1365.2 1013L1247 1013Z" fill="#65a65e"/>
<rect x="1237" y="1028.5" width="138.2" height="33.1" fill="#80c47e"/><path d="M1237 1028.5L1247 1028.5L1247 1047.9L1237 1061.6Z" fill="#a8d49b"/><path d="M1375.2 1028.5L1365.2 1028.5L1365.2 1047.9L1375.2 1061.6Z" fill="#4b8c4a"/><path d="M1237 1061.6L1375.2 1061.6L1365.2 1047.9L1247 1047.9Z" fill="#65a65e"/>
<rect x="1237" y="1061.6" width="138.2" height="65.2" fill="#80c47e"/><path d="M1237 1061.6L1247 1061.6L1247 1112.6L1237 1126.8Z" fill="#a8d49b"/><path d="M1375.2 1061.6L1365.2 1061.6L1365.2 1112.6L1375.2 1126.8Z" fill="#4b8c4a"/><path d="M1237 1126.8L1375.2 1126.8L1365.2 1112.6L1247 1112.6Z" fill="#65a65e"/>
<rect x="1237" y="1126.8" width="138.2" height="68.5" fill="#80c47e"/><path d="M1237 1126.8L1247 1126.8L1247 1182.5L1237 1195.3Z" fill="#a8d49b"/><path d="M1375.2 1126.8L1365.2 1126.8L1365.2 1182.5L1375.2 1195.3Z" fill="#4b8c4a"/><path d="M1237 1195.3L1375.2 1195.3L1365.2 1182.5L1247 1182.5Z" fill="#65a65e"/>
<rect x="1237" y="1195.3" width="138.2" height="99.1" fill="#69aee0"/><path d="M1237 1195.3L1247 1195.3L1247 1281.3L1237 1294.4Z" fill="#8ccbf1"/><path d="M1375.2 1195.3L1365.2 1195.3L1365.2 1281.3L1375.2 1294.4Z" fill="#1f5288"/><path d="M1237 1294.4L1375.2 1294.4L1365.2 1281.3L1247 1281.3Z" fill="#4f90c8"/>
<rect x="1237" y="1294.4" width="138.2" height="66.6" fill="#69aee0"/><path d="M1237 1294.4L1247 1294.4L1247 1346.2L1237 1361Z" fill="#8ccbf1"/><path d="M1375.2 1294.4L1365.2 1294.4L1365.2 1346.2L1375.2 1361Z" fill="#1f5288"/><path d="M1237 1361L1375.2 1361L1365.2 1346.2L1247 1346.2Z" fill="#4f90c8"/>
<rect x="1237" y="1361" width="138.2" height="99.9" fill="#69aee0"/><path d="M1237 1361L1247 1361L1247 1446.4L1237 1460.9Z" fill="#8ccbf1"/><path d="M1375.2 1361L1365.2 1361L1365.2 1446.4L1375.2 1460.9Z" fill="#1f5288"/><path d="M1237 1460.9L1375.2 1460.9L1365.2 1446.4L1247 1446.4Z" fill="#4f90c8"/>
<rect x="1375.2" y="1063.4" width="137.8" height="131.9" fill="#f6e57b"/><path d="M1375.2 1063.4L1384.8 1079L1384.8 1180.5L1375.2 1195.3Z" fill="#fbf5c9"/><path d="M1513 1063.4L1503.3 1079L1503.3 1180.5L1513 1195.3Z" fill="#a89a2c"/><path d="M1375.2 1063.4L1513 1063.4L1503.3 1079L1384.8 1079Z" fill="#fbf5c9"/><path d="M1375.2 1195.3L1513 1195.3L1503.3 1180.5L1384.8 1180.5Z" fill="#c8b43a"/>
<rect x="1375.2" y="1195.3" width="137.8" height="99.7" fill="#f6e57b"/><path d="M1375.2 1195.3L1384.8 1195.3L1384.8 1281.3L1375.2 1295Z" fill="#fbf5c9"/><path d="M1513 1195.3L1503.3 1195.3L1503.3 1281.3L1513 1295Z" fill="#a89a2c"/><path d="M1375.2 1295L1513 1295L1503.3 1281.3L1384.8 1281.3Z" fill="#dcc81f"/>
<rect x="1375.2" y="1295" width="137.8" height="66" fill="#f6e57b"/><path d="M1375.2 1295L1384.8 1295L1384.8 1347L1375.2 1361Z" fill="#fbf5c9"/><path d="M1513 1295L1503.3 1295L1503.3 1347L1513 1361Z" fill="#a89a2c"/><path d="M1375.2 1361L1513 1361L1503.3 1347L1384.8 1347Z" fill="#dcc81f"/>
<rect x="1375.2" y="1361" width="137.8" height="99.9" fill="#f6e57b"/><path d="M1375.2 1361L1384.8 1361L1384.8 1447.2L1375.2 1460.9Z" fill="#fbf5c9"/><path d="M1513 1361L1503.3 1361L1503.3 1447.2L1513 1460.9Z" fill="#a89a2c"/><path d="M1375.2 1460.9L1513 1460.9L1503.3 1447.2L1384.8 1447.2Z" fill="#dcc81f"/>
<rect x="1375.2" y="1460.9" width="137.8" height="66" fill="#69aee0"/><path d="M1375.2 1460.9L1384.8 1460.9L1384.8 1511.8L1375.2 1526.9Z" fill="#8ccbf1"/><path d="M1513 1460.9L1503.3 1460.9L1503.3 1511.8L1513 1526.9Z" fill="#1f5288"/><path d="M1375.2 1526.9L1513 1526.9L1503.3 1511.8L1384.8 1511.8Z" fill="#4f90c8"/>
<rect x="1097.6" y="763" width="0.8" height="149" fill="#eef3ea"/>
<rect x="527" y="1526.0" width="12" height="1.3" fill="#777"/>
<rect x="527" y="1493.9" width="12" height="1.3" fill="#777"/>
<rect x="527" y="1460.2" width="12" height="1.3" fill="#777"/>
<rect x="527" y="1427.1" width="12" height="1.3" fill="#777"/>
<rect x="527" y="1393.8" width="12" height="1.3" fill="#777"/>
<rect x="527" y="1360.9" width="12" height="1.3" fill="#777"/>
<rect x="527" y="1327.5" width="12" height="1.3" fill="#777"/>
<rect x="527" y="1294.0" width="12" height="1.3" fill="#777"/>
<rect x="527" y="1260.7" width="12" height="1.3" fill="#777"/>
<rect x="527" y="1228.2" width="12" height="1.3" fill="#777"/>
<rect x="527" y="1194.9" width="12" height="1.3" fill="#777"/>
<rect x="527" y="1161.6" width="12" height="1.3" fill="#777"/>
<rect x="527" y="1128.5" width="12" height="1.3" fill="#777"/>
<rect x="527" y="1095.2" width="12" height="1.3" fill="#777"/>
<rect x="527" y="1061.9" width="12" height="1.3" fill="#777"/>
<rect x="527" y="1028.3" width="12" height="1.3" fill="#777"/>
<rect x="527" y="995.4" width="12" height="1.3" fill="#777"/>
<rect x="527" y="961.9" width="12" height="1.3" fill="#777"/>
<rect x="527" y="928.8" width="12" height="1.3" fill="#777"/>
<rect x="527" y="895.5" width="12" height="1.3" fill="#777"/>
<rect x="527" y="862.1" width="12" height="1.3" fill="#777"/>
<rect x="527" y="830.4" width="12" height="1.3" fill="#777"/>
<rect x="527" y="796.6" width="12" height="1.3" fill="#777"/>
<rect x="527" y="763.1" width="12" height="1.3" fill="#777"/>
<rect x="527" y="729.6" width="12" height="1.3" fill="#777"/>
<rect x="527" y="696.3" width="12" height="1.3" fill="#777"/>
<rect x="527" y="663.8" width="12" height="1.3" fill="#777"/>
<rect x="527" y="629.8" width="12" height="1.3" fill="#777"/>
<rect x="527" y="597.1" width="12" height="1.3" fill="#777"/>
<rect x="527" y="563.2" width="12" height="1.3" fill="#777"/>
<rect x="527" y="529.7" width="12" height="1.3" fill="#777"/>
<rect x="570.5" y="1557" width="1.1" height="20.8" fill="#5a5a5a"/>
<rect x="653.0" y="1557" width="1.1" height="20.8" fill="#5a5a5a"/>
<rect x="736.0" y="1557" width="1.1" height="20.8" fill="#5a5a5a"/>
<rect x="819.0" y="1557" width="1.1" height="20.8" fill="#5a5a5a"/>
<rect x="957.5" y="1557" width="1.1" height="20.8" fill="#5a5a5a"/>
<rect x="1096.5" y="1557" width="1.1" height="20.8" fill="#5a5a5a"/>
<rect x="1235.5" y="1557" width="1.1" height="20.8" fill="#5a5a5a"/>
<rect x="1374.5" y="1557" width="1.1" height="20.8" fill="#5a5a5a"/>
<rect x="1513.5" y="1557" width="1.1" height="20.8" fill="#5a5a5a"/>
<g font-family="'Liberation Sans', sans-serif" font-size="17.1" text-anchor="middle" font-weight="400" letter-spacing="0.35">
<text transform="translate(612.2 606.4) scale(0.94 1)" fill="#3a3a3a" stroke="#3a3a3a" stroke-width="0.5">55N</text>
<text transform="translate(612.2 700.4) scale(0.94 1)" fill="#3a3a3a" stroke="#3a3a3a" stroke-width="0.5">53N</text>
<text transform="translate(612.2 781.4) scale(0.94 1)" fill="#3a3a3a" stroke="#3a3a3a" stroke-width="0.5">50N</text>
<text transform="translate(612.2 867.4) scale(0.94 1)" fill="#3a3a3a" stroke="#3a3a3a" stroke-width="0.5">48N</text>
<text transform="translate(696.2 703.4) scale(0.94 1)" fill="#3a3a3a" stroke="#3a3a3a" stroke-width="0.5">52M</text>
<text transform="translate(696.2 797.4) scale(0.94 1)" fill="#3a3a3a" stroke="#3a3a3a" stroke-width="0.5">50M</text>
<text transform="translate(693.2 868.4) scale(0.94 1)" fill="#3a3a3a" stroke="#3a3a3a" stroke-width="0.5">48M</text>
<text transform="translate(769.2 770.4) scale(0.94 1)" fill="#3a3a3a" stroke="#3a3a3a" stroke-width="0.5">50H</text>
<text transform="translate(771.2 865.4) scale(0.94 1)" fill="#3a3a3a" stroke="#3a3a3a" stroke-width="0.5">48H</text>
<text transform="translate(779.2 931.4) scale(0.94 1)" fill="#3a3a3a" stroke="#3a3a3a" stroke-width="0.5">46H</text>
<text transform="translate(779.2 997.4) scale(0.94 1)" fill="#3a3a3a" stroke="#3a3a3a" stroke-width="0.5">44H</text>
<text transform="translate(778.2 1045.4) scale(0.94 1)" fill="#3a3a3a" stroke="#3a3a3a" stroke-width="0.5">42H</text>
<text transform="translate(778.2 1095.4) scale(0.94 1)" fill="#3a3a3a" stroke="#3a3a3a" stroke-width="0.5">40H</text>
<text transform="translate(890.2 861.4) scale(0.94 1)" fill="#ffffff" stroke="#ffffff" stroke-width="0.5">(G)48SH</text>
<text transform="translate(890.2 926.4) scale(0.94 1)" fill="#ffffff" stroke="#ffffff" stroke-width="0.5">(G)46SH</text>
<text transform="translate(888.2 993.4) scale(0.94 1)" fill="#ffffff" stroke="#ffffff" stroke-width="0.5">(G)44SH</text>
<text transform="translate(887.2 1045.4) scale(0.94 1)" fill="#3a3a3a" stroke="#3a3a3a" stroke-width="0.5">42SH</text>
<text transform="translate(887.2 1095.4) scale(0.94 1)" fill="#3a3a3a" stroke="#3a3a3a" stroke-width="0.5">40SH</text>
<text transform="translate(886.2 1160.4) scale(0.94 1)" fill="#3a3a3a" stroke="#3a3a3a" stroke-width="0.5">38SH</text>
<text transform="translate(915.2 653.4) scale(0.94 1)" fill="#1c2a1c" stroke="#1c2a1c" stroke-width="0.5">G54SH</text>
<text transform="translate(913.2 746.4) scale(0.94 1)" fill="#1c2a1c" stroke="#1c2a1c" stroke-width="0.5">G52SH</text>
<text transform="translate(914.2 795.4) scale(0.94 1)" fill="#1c2a1c" stroke="#1c2a1c" stroke-width="0.5">G50SH</text>
<text transform="translate(1029.2 704.4) scale(0.94 1)" fill="#37321c" stroke="#37321c" stroke-width="0.5">G52UH</text>
<text transform="translate(1028.2 796.4) scale(0.94 1)" fill="#1c2a1c" stroke="#1c2a1c" stroke-width="0.5">G50UH</text>
<text transform="translate(1028.2 861.4) scale(0.94 1)" fill="#1c2a1c" stroke="#1c2a1c" stroke-width="0.5">G48UH</text>
<text transform="translate(1028.2 922.4) scale(0.94 1)" fill="#1c2a1c" stroke="#1c2a1c" stroke-width="0.5">G46UH</text>
<text transform="translate(1028.2 992.4) scale(0.94 1)" fill="#ffffff" stroke="#ffffff" stroke-width="0.5">(G)44UH</text>
<text transform="translate(1027.2 1045.4) scale(0.94 1)" fill="#ffffff" stroke="#ffffff" stroke-width="0.5">(G)42UH</text>
<text transform="translate(1027.2 1095.4) scale(0.94 1)" fill="#ffffff" stroke="#ffffff" stroke-width="0.5">(G)40UH</text>
<text transform="translate(1027.2 1160.4) scale(0.94 1)" fill="#3a3a3a" stroke="#3a3a3a" stroke-width="0.5">38UH</text>
<text transform="translate(1168.2 836.4) scale(0.94 1)" fill="#1c2a1c" stroke="#1c2a1c" stroke-width="0.5">G48EH</text>
<text transform="translate(1167.2 922.4) scale(0.94 1)" fill="#1c2a1c" stroke="#1c2a1c" stroke-width="0.5">G46EH</text>
<text transform="translate(1167.2 992.4) scale(0.94 1)" fill="#1c2a1c" stroke="#1c2a1c" stroke-width="0.5">G44EH</text>
<text transform="translate(1168.2 1046.4) scale(0.94 1)" fill="#1c2a1c" stroke="#1c2a1c" stroke-width="0.5">G42EH</text>
<text transform="translate(1163.2 1095.4) scale(0.94 1)" fill="#ffffff" stroke="#ffffff" stroke-width="0.5">(G)40EH</text>
<text transform="translate(1163.2 1160.4) scale(0.94 1)" fill="#ffffff" stroke="#ffffff" stroke-width="0.5">(G)38EH</text>
<text transform="translate(1163.2 1246.4) scale(0.94 1)" fill="#ffffff" stroke="#ffffff" stroke-width="0.5">(G)35EH</text>
<text transform="translate(1167.2 1324.4) scale(0.94 1)" fill="#3a3a3a" stroke="#3a3a3a" stroke-width="0.5">33EH</text>
<text transform="translate(1307.2 970.4) scale(0.94 1)" fill="#1c2a1c" stroke="#1c2a1c" stroke-width="0.5">G44AH</text>
<text transform="translate(1309.2 1044.4) scale(0.94 1)" fill="#1c2a1c" stroke="#1c2a1c" stroke-width="0.5">G42AH</text>
<text transform="translate(1309.2 1093.4) scale(0.94 1)" fill="#1c2a1c" stroke="#1c2a1c" stroke-width="0.5">G40AH</text>
<text transform="translate(1309.2 1160.4) scale(0.94 1)" fill="#1c2a1c" stroke="#1c2a1c" stroke-width="0.5">G38AH</text>
<text transform="translate(1307.2 1246.4) scale(0.94 1)" fill="#ffffff" stroke="#ffffff" stroke-width="0.5">(G)35AH</text>
<text transform="translate(1307.2 1322.4) scale(0.94 1)" fill="#ffffff" stroke="#ffffff" stroke-width="0.5">(G)33AH</text>
<text transform="translate(1310.2 1404.4) scale(0.94 1)" fill="#ffffff" stroke="#ffffff" stroke-width="0.5">(G)30AH</text>
<text transform="translate(1446.2 1136.4) scale(0.94 1)" fill="#37321c" stroke="#37321c" stroke-width="0.5">G38ZH</text>
<text transform="translate(1447.2 1244.4) scale(0.94 1)" fill="#37321c" stroke="#37321c" stroke-width="0.5">G35ZH</text>
<text transform="translate(1446.2 1322.4) scale(0.94 1)" fill="#37321c" stroke="#37321c" stroke-width="0.5">G33ZH</text>
<text transform="translate(1444.2 1406.4) scale(0.94 1)" fill="#37321c" stroke="#37321c" stroke-width="0.5">G30ZH</text>
<text transform="translate(1441.2 1492.4) scale(0.94 1)" fill="#ffffff" stroke="#ffffff" stroke-width="0.5">(G)28ZH</text>
</g>
<g font-family="'Liberation Sans', sans-serif" font-size="20" fill="#333" stroke="#333" stroke-width="0.5">
<text transform="translate(522.3 1532.7) scale(0.89 1)" text-anchor="end">26</text>
<text transform="translate(522.3 1500.6) scale(0.89 1)" text-anchor="end">27</text>
<text transform="translate(522.3 1466.9) scale(0.89 1)" text-anchor="end">28</text>
<text transform="translate(522.3 1433.8) scale(0.89 1)" text-anchor="end">29</text>
<text transform="translate(522.3 1400.5) scale(0.89 1)" text-anchor="end">30</text>
<text transform="translate(522.3 1367.6) scale(0.89 1)" text-anchor="end">31</text>
<text transform="translate(522.3 1334.2) scale(0.89 1)" text-anchor="end">32</text>
<text transform="translate(522.3 1300.7) scale(0.89 1)" text-anchor="end">33</text>
<text transform="translate(522.3 1267.4) scale(0.89 1)" text-anchor="end">34</text>
<text transform="translate(522.3 1234.9) scale(0.89 1)" text-anchor="end">35</text>
<text transform="translate(522.3 1201.6) scale(0.89 1)" text-anchor="end">36</text>
<text transform="translate(522.3 1168.3) scale(0.89 1)" text-anchor="end">37</text>
<text transform="translate(522.3 1135.2) scale(0.89 1)" text-anchor="end">38</text>
<text transform="translate(522.3 1101.9) scale(0.89 1)" text-anchor="end">39</text>
<text transform="translate(522.3 1068.6) scale(0.89 1)" text-anchor="end">40</text>
<text transform="translate(522.3 1035.0) scale(0.89 1)" text-anchor="end">41</text>
<text transform="translate(522.3 1002.1) scale(0.89 1)" text-anchor="end">42</text>
<text transform="translate(522.3 968.6) scale(0.89 1)" text-anchor="end">43</text>
<text transform="translate(522.3 935.5) scale(0.89 1)" text-anchor="end">44</text>
<text transform="translate(522.3 902.2) scale(0.89 1)" text-anchor="end">45</text>
<text transform="translate(522.3 868.9) scale(0.89 1)" text-anchor="end">46</text>
<text transform="translate(522.3 837.1) scale(0.89 1)" text-anchor="end">47</text>
<text transform="translate(522.3 803.3) scale(0.89 1)" text-anchor="end">48</text>
<text transform="translate(522.3 769.8) scale(0.89 1)" text-anchor="end">49</text>
<text transform="translate(522.3 736.3) scale(0.89 1)" text-anchor="end">50</text>
<text transform="translate(522.3 703.0) scale(0.89 1)" text-anchor="end">51</text>
<text transform="translate(522.3 670.5) scale(0.89 1)" text-anchor="end">52</text>
<text transform="translate(522.3 636.5) scale(0.89 1)" text-anchor="end">53</text>
<text transform="translate(522.3 603.8) scale(0.89 1)" text-anchor="end">54</text>
<text transform="translate(522.3 569.9) scale(0.89 1)" text-anchor="end">55</text>
<text transform="translate(522.3 536.4) scale(0.89 1)" text-anchor="end">56</text>
<text transform="translate(571.8 1600.5) scale(0.89 1)" text-anchor="middle">11</text>
<text transform="translate(654.3 1600.5) scale(0.89 1)" text-anchor="middle">14</text>
<text transform="translate(737.3 1600.5) scale(0.89 1)" text-anchor="middle">17</text>
<text transform="translate(820.3 1600.5) scale(0.89 1)" text-anchor="middle">20</text>
<text transform="translate(958.8 1600.5) scale(0.89 1)" text-anchor="middle">25</text>
<text transform="translate(1097.8 1600.5) scale(0.89 1)" text-anchor="middle">30</text>
<text transform="translate(1236.8 1600.5) scale(0.89 1)" text-anchor="middle">35</text>
<text transform="translate(1375.8 1600.5) scale(0.89 1)" text-anchor="middle">40</text>
<text transform="translate(1514.8 1600.5) scale(0.89 1)" text-anchor="middle">45</text>
</g>
<g font-family="'Liberation Sans', sans-serif" font-weight="700" fill="#565656" stroke="#565656" stroke-width="0.7">
<text transform="translate(483.8 1056) rotate(-90)" text-anchor="middle" font-size="24.8">(BH )<tspan font-size="19.3" dy="3.2">max</tspan><tspan dy="-3.2">/MGOe</tspan></text>
<text x="1028.3" y="1635.7" text-anchor="middle" font-size="24.8" letter-spacing="1">H<tspan font-size="17" dy="2.5" letter-spacing="1.6">cJ</tspan><tspan dy="-2.5" dx="3.4">/kOe</tspan></text>
</g>
</svg>
</body></html>
